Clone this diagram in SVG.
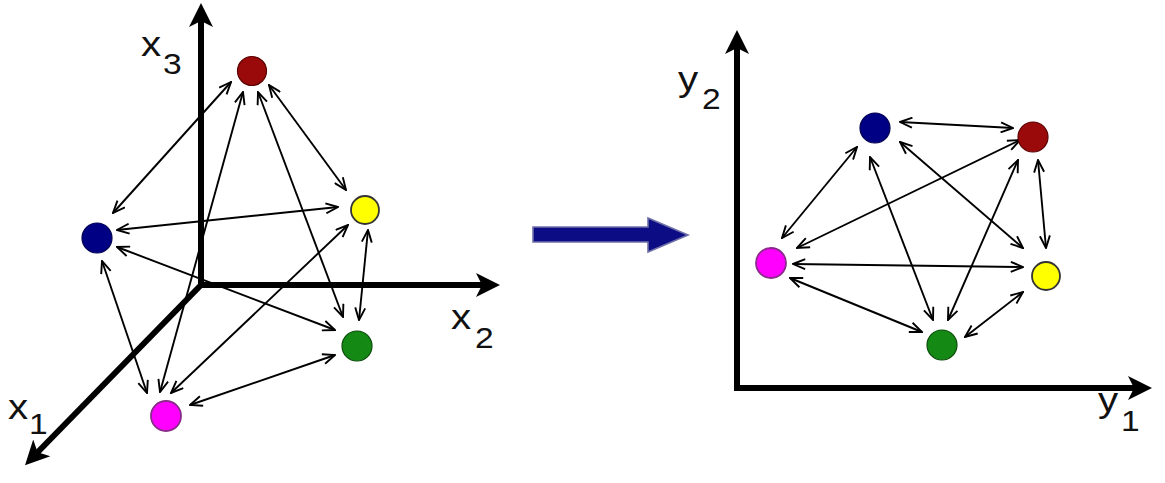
<svg xmlns="http://www.w3.org/2000/svg" width="1165" height="483" viewBox="0 0 1165 483">
<style>
.axis{stroke:#000;stroke-width:6;fill:none;marker-end:url(#ax)}
.conn line{stroke:#000;stroke-width:1.9;marker-start:url(#v);marker-end:url(#v)}
.lbl{font-family:"Liberation Sans",Arial,sans-serif;font-size:36px;fill:#111}
.sub{font-family:"Liberation Sans",Arial,sans-serif;font-size:30px;fill:#111}
.red{fill:#9a0a0a;stroke:#5a0000;stroke-width:1.2}
.yel{fill:#ffff00;stroke:#333;stroke-width:1.8}
.blu{fill:#000085;stroke:#000050;stroke-width:1.2}
.grn{fill:#148a14;stroke:#0a4a0a;stroke-width:1.2}
.mag{fill:#ff00ff;stroke:#8a2a8a;stroke-width:1.8}
</style>
<defs>
<marker id="v" viewBox="0 0 14 12" refX="13.2" refY="6" markerWidth="14" markerHeight="12" markerUnits="userSpaceOnUse" orient="auto-start-reverse">
<path d="M1,1 L13.2,6 L1,11" fill="none" stroke="#000" stroke-width="1.9"/>
</marker>
<marker id="ax" viewBox="0 0 24 26" refX="14" refY="13" markerWidth="24" markerHeight="26" markerUnits="userSpaceOnUse" orient="auto">
<path d="M0,1 L24,13 L0,25 L6,13 z" fill="#000"/>
</marker>
</defs>
<rect width="1165" height="483" fill="#fff"/>

<g id="left-axes">
<line class="axis" x1="201" y1="287" x2="201" y2="13"/>
<line class="axis" x1="199" y1="285" x2="490" y2="285"/>
<line class="axis" x1="201" y1="285" x2="32" y2="458"/>
<text class="lbl" transform="translate(141,56) scale(1.12,1)">x</text><text class="sub" transform="translate(163,74) scale(1.12,1)">3</text>
<text class="lbl" transform="translate(451,329) scale(1.12,1)">x</text><text class="sub" transform="translate(475,348) scale(1.12,1)">2</text>
<text class="lbl" transform="translate(8,419) scale(1.12,1)">x</text><text class="sub" transform="translate(29,434) scale(1.12,1)">1</text>
</g>

<g id="left-connectors" class="conn">
<line x1="113" y1="213" x2="231" y2="82"/>
<line x1="117" y1="230" x2="338" y2="207"/>
<line x1="117" y1="247" x2="335" y2="330"/>
<line x1="102" y1="261" x2="147" y2="393"/>
<line x1="269" y1="85" x2="346" y2="190"/>
<line x1="258" y1="92" x2="343" y2="317"/>
<line x1="243" y1="92" x2="160" y2="392"/>
<line x1="368" y1="230" x2="359" y2="320"/>
<line x1="348" y1="225" x2="171" y2="393"/>
<line x1="335" y1="355" x2="190" y2="405"/>
</g>

<g id="l-red"><circle class="red" cx="252" cy="71" r="14.5"/></g>
<g id="l-yellow"><circle class="yel" cx="365" cy="210" r="14"/></g>
<g id="l-blue"><circle class="blu" cx="97" cy="238" r="15"/></g>
<g id="l-green"><circle class="grn" cx="357" cy="346" r="15"/></g>
<g id="l-magenta"><circle class="mag" cx="166" cy="416" r="15"/></g>

<g id="transform-arrow">
<path d="M533,227 L648,227 L648,218 L688,235 L648,252 L648,242 L533,242 z" fill="#0c0c85" stroke="#7070a8" stroke-width="1.6"/>
</g>

<g id="right-axes">
<line class="axis" x1="737" y1="390" x2="737" y2="40"/>
<line class="axis" x1="734" y1="388" x2="1142" y2="388"/>
<text class="lbl" transform="translate(678,91) scale(1.12,1)">y</text><text class="sub" transform="translate(702,109) scale(1.12,1)">2</text>
<text class="lbl" transform="translate(1098,412) scale(1.12,1)">y</text><text class="sub" transform="translate(1121,431) scale(1.12,1)">1</text>
</g>

<g id="right-connectors" class="conn">
<line x1="900" y1="122" x2="1013" y2="128"/>
<line x1="857" y1="147" x2="782" y2="238"/>
<line x1="1020" y1="140" x2="797" y2="248"/>
<line x1="870" y1="157" x2="933" y2="320"/>
<line x1="900" y1="142" x2="1023" y2="248"/>
<line x1="1018" y1="160" x2="948" y2="320"/>
<line x1="1038" y1="160" x2="1046" y2="248"/>
<line x1="793" y1="264" x2="1023" y2="267"/>
<line x1="790" y1="278" x2="922" y2="332"/>
<line x1="1023" y1="292" x2="965" y2="337"/>
</g>

<g id="r-blue"><circle class="blu" cx="875" cy="128" r="15"/></g>
<g id="r-red"><circle class="red" cx="1033" cy="137" r="15"/></g>
<g id="r-magenta"><circle class="mag" cx="771" cy="263" r="15"/></g>
<g id="r-yellow"><circle class="yel" cx="1046" cy="276" r="14"/></g>
<g id="r-green"><circle class="grn" cx="942" cy="345" r="15"/></g>
</svg>
